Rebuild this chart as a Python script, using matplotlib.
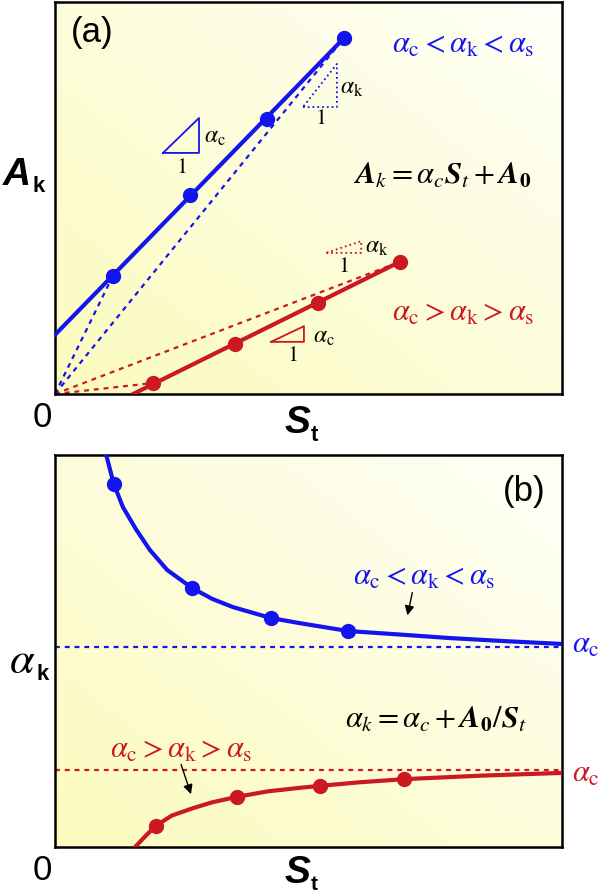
import numpy as np
import matplotlib.pyplot as plt

plt.rcParams['font.family'] = ['Liberation Sans', 'DejaVu Sans']
plt.rcParams['mathtext.fontset'] = 'stix'

BLUE = '#1414ee'
RED = '#cc1820'

# panel (a): A_k against S_t, arbitrary units (0-10 on both axes)
a_blue_S = [1.14, 2.66, 4.18, 5.70]
a_blue_A = [3.01, 5.08, 7.02, 9.08]
a_blue_line_S = [0.0, 5.70]
a_blue_line_A = [1.51, 9.08]
a_red_S = [1.93, 3.55, 5.19, 6.80]
a_red_A = [0.28, 1.28, 2.32, 3.37]
a_red_line_S = [1.54, 6.80]
a_red_line_A = [0.0, 3.37]

# slope triangles (x0, x1, y0, y1)
tri_blue_c = [2.13, 2.84, 6.15, 7.04]
tri_blue_k = [4.89, 5.56, 7.32, 8.42]
tri_red_c = [4.26, 4.91, 1.33, 1.73]
tri_red_k = [5.35, 6.04, 3.60, 3.90]

# panel (b): alpha_k against S_t
b_blue_S = [1.16, 2.70, 4.26, 5.78]
b_blue_a = [9.26, 6.61, 5.84, 5.51]
b_blue_curve_S = [1.01, 1.16, 1.34, 1.60, 1.87, 2.21, 2.70, 3.10, 3.51, 4.26, 4.83, 5.78, 6.80, 7.79, 8.90, 10.0]
b_blue_curve_a = [10.0, 9.26, 8.67, 8.10, 7.58, 7.07, 6.61, 6.33, 6.12, 5.84, 5.71, 5.51, 5.42, 5.33, 5.25, 5.18]
b_blue_alpha_c = 5.10
b_red_S = [1.99, 3.59, 5.23, 6.88]
b_red_a = [0.54, 1.28, 1.56, 1.73]
b_red_curve_S = [1.58, 1.80, 1.99, 2.30, 2.72, 3.10, 3.59, 4.20, 4.83, 5.23, 6.00, 6.88, 8.40, 10.0]
b_red_curve_a = [0.0, 0.30, 0.54, 0.80, 0.99, 1.14, 1.28, 1.42, 1.51, 1.56, 1.65, 1.73, 1.82, 1.89]
b_red_alpha_c = 1.96

W, H = 600, 896


def fx(px):
    return px / W


def fy(py):
    return 1 - py / H


def paint_background(ax):
    xx, yy = np.meshgrid(np.linspace(0, 1, 64), np.linspace(0, 1, 64))
    t = (xx + yy) / 2
    c0 = np.array([251, 251, 190]) / 255
    c1 = np.array([255, 255, 248]) / 255
    img = c0 + (c1 - c0) * t[..., None]
    ax.imshow(img, extent=[0, 10, 0, 10], origin='lower', aspect='auto', zorder=0)
    ax.set_xlim(0, 10)
    ax.set_ylim(0, 10)
    ax.set_xticks([])
    ax.set_yticks([])
    for sp in ax.spines.values():
        sp.set_linewidth(1.8)


def triangle(ax, tri, color, ls):
    x0, x1, y0, y1 = tri
    ax.plot([x0, x1, x1, x0], [y0, y0, y1, y0], color=color, lw=1.3, ls=ls, zorder=3)


def serif(ax, x, y, s, size, color='black', **kw):
    ax.text(x, y, s, fontsize=size, color=color, math_fontfamily='stix', **kw)


fig = plt.figure(figsize=(W / 100, H / 100), dpi=100)
ax1 = fig.add_axes([fx(55), fy(394), fx(562) - fx(55), fy(2) - fy(394)])
ax2 = fig.add_axes([fx(55), fy(847), fx(562) - fx(55), fy(455) - fy(847)])

# ---- panel (a)
paint_background(ax1)
for S, A, line_S, line_A, c in [(a_blue_S, a_blue_A, a_blue_line_S, a_blue_line_A, BLUE),
                                (a_red_S, a_red_A, a_red_line_S, a_red_line_A, RED)]:
    ax1.plot([0, S[0]], [0, A[0]], color=c, lw=1.6, ls=(0, (2.2, 2.2)), zorder=2)
    ax1.plot([0, S[-1]], [0, A[-1]], color=c, lw=1.6, ls=(0, (2.2, 2.2)), zorder=2)
    ax1.plot(line_S, line_A, color=c, lw=3, zorder=4)
    ax1.plot(S, A, 'o', color=c, ms=10, zorder=5)

triangle(ax1, tri_blue_c, BLUE, '-')
triangle(ax1, tri_blue_k, BLUE, ':')
triangle(ax1, tri_red_c, RED, '-')
triangle(ax1, tri_red_k, RED, ':')
serif(ax1, 2.93, 6.56, r'$\alpha_\mathrm{c}$', 17, va='center')
serif(ax1, 2.49, 5.79, r'$1$', 16, ha='center', va='center')
serif(ax1, 5.63, 7.81, r'$\alpha_\mathrm{k}$', 17, va='center')
serif(ax1, 5.23, 7.04, r'$1$', 16, ha='center', va='center')
serif(ax1, 5.08, 1.45, r'$\alpha_\mathrm{c}$', 17, va='center')
serif(ax1, 4.69, 0.99, r'$1$', 16, ha='center', va='center')
serif(ax1, 6.12, 3.75, r'$\alpha_\mathrm{k}$', 17, va='center')
serif(ax1, 5.68, 3.24, r'$1$', 16, ha='center', va='center')

serif(ax1, 6.65, 8.90, r'$\alpha_\mathrm{c} < \alpha_\mathrm{k} < \alpha_\mathrm{s}$', 22, BLUE, va='center')
serif(ax1, 6.65, 2.07, r'$\alpha_\mathrm{c} > \alpha_\mathrm{k} > \alpha_\mathrm{s}$', 22, RED, va='center')
serif(ax1, 5.88, 5.56, r'$\mathbfit{A}_k = \alpha_c\mathbfit{S}_t + \mathbfit{A}_\mathbf{0}$', 22, va='center')
ax1.text(0.73, 9.21, '(a)', fontsize=25, ha='center', va='center')

# ---- panel (b)
paint_background(ax2)
ax2.axhline(b_blue_alpha_c, color=BLUE, lw=1.6, ls=(0, (2.2, 2.2)), zorder=2)
ax2.axhline(b_red_alpha_c, color=RED, lw=1.6, ls=(0, (2.2, 2.2)), zorder=2)
ax2.plot(b_blue_curve_S, b_blue_curve_a, color=BLUE, lw=3, zorder=4)
ax2.plot(b_blue_S, b_blue_a, 'o', color=BLUE, ms=10, zorder=5)
ax2.plot(b_red_curve_S, b_red_curve_a, color=RED, lw=3, zorder=4)
ax2.plot(b_red_S, b_red_a, 'o', color=RED, ms=10, zorder=5)

serif(ax2, 5.88, 6.89, r'$\alpha_\mathrm{c} < \alpha_\mathrm{k} < \alpha_\mathrm{s}$', 22, BLUE, va='center')
serif(ax2, 1.08, 2.47, r'$\alpha_\mathrm{c} > \alpha_\mathrm{k} > \alpha_\mathrm{s}$', 22, RED, va='center')
serif(ax2, 5.72, 3.24, r'$\alpha_k = \alpha_c + \mathbfit{A}_\mathbf{0}/\mathbfit{S}_t$', 22, va='center')
ax2.annotate('', xy=(6.94, 5.84), xytext=(7.06, 6.56),
             arrowprops=dict(arrowstyle='-|>', color='black', lw=1, mutation_scale=14))
ax2.annotate('', xy=(2.70, 1.28), xytext=(2.47, 2.17),
             arrowprops=dict(arrowstyle='-|>', color='black', lw=1, mutation_scale=14))
serif(ax2, 10.2, b_blue_alpha_c + 0.05, r'$\alpha_\mathrm{c}$', 22, BLUE, va='center', clip_on=False)
serif(ax2, 10.2, b_red_alpha_c - 0.1, r'$\alpha_\mathrm{c}$', 22, RED, va='center', clip_on=False)
ax2.text(9.25, 9.08, '(b)', fontsize=25, ha='center', va='center')

# ---- axis labels drawn as separate pieces (mixed fonts)
fig.text(fx(17), fy(185), 'A', fontsize=28, fontweight='bold', fontstyle='italic', ha='center', va='baseline')
fig.text(fx(33), fy(192), 'k', fontsize=16, fontweight='bold', ha='left', va='baseline')
fig.text(fx(42), fy(427), '0', fontsize=25, ha='center', va='baseline')
fig.text(fx(310), fy(433), 'S', fontsize=28, fontweight='bold', fontstyle='italic', ha='right', va='baseline')
fig.text(fx(311), fy(441), 't', fontsize=16, fontweight='bold', ha='left', va='baseline')

fig.text(fx(22), fy(661), r'$\alpha$', fontsize=32, math_fontfamily='stix', ha='center', va='center')
fig.text(fx(36), fy(680), 'k', fontsize=16, fontweight='bold', ha='left', va='baseline')
fig.text(fx(42), fy(880), '0', fontsize=25, ha='center', va='baseline')
fig.text(fx(310), fy(883), 'S', fontsize=28, fontweight='bold', fontstyle='italic', ha='right', va='baseline')
fig.text(fx(311), fy(890), 't', fontsize=15, fontweight='bold', ha='left', va='baseline')

fig.savefig('out.png', dpi=100)
